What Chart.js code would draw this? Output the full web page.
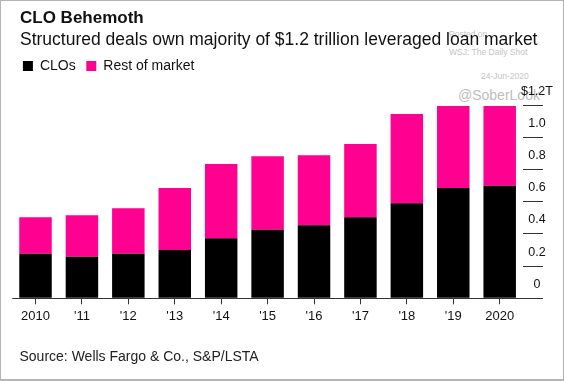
<!DOCTYPE html>
<html>
<head>
<meta charset="utf-8">
<script src="https://cdn.jsdelivr.net/npm/chart.js@4.4.0/dist/chart.umd.min.js"></script>
<style>
  html, body { margin: 0; padding: 0; background: #fff; }
  #wrap { position: relative; width: 564px; height: 381px; overflow: hidden; font-family: "Liberation Sans", Arial, sans-serif; color: #111; }
  #wrap canvas { position: absolute; left: 0; top: 0; z-index: 2; }
  .txt { position: absolute; white-space: nowrap; line-height: 1; z-index: 3; }
  .wm { position: absolute; white-space: nowrap; line-height: 1; color: #c4c4c4; z-index: 1; }
  #frame { position: absolute; left: 0; top: 0; width: 564px; height: 381px; box-sizing: border-box; border: 1px solid #b4b4b4; border-bottom-width: 2px; z-index: 4; }
</style>
</head>
<body>
<div id="wrap">
  <div class="wm" style="left:449px; top:29.8px; font-size:8.5px;">Posted on</div>
  <div class="wm" style="left:449px; top:48.3px; font-size:8.5px;">WSJ: The Daily Shot</div>
  <div class="wm" style="left:481px; top:72.1px; font-size:8.5px;">24-Jun-2020</div>
  <div class="wm" style="left:458px; top:88.2px; font-size:14px; color:#bdbdbd;">@SoberLook</div>

  <div class="txt" style="left:20px; top:8.9px; font-size:17px; font-weight:bold;">CLO Behemoth</div>
  <div class="txt" style="left:20px; top:31.2px; font-size:17.5px;">Structured deals own majority of $1.2 trillion leveraged loan market</div>
  <div class="txt" style="left:19.5px; top:348.8px; font-size:14px; color:#222;">Source: Wells Fargo &amp; Co., S&amp;P/LSTA</div>

  <canvas id="myChart" width="564" height="381"></canvas>
  <div id="frame"></div>
</div>
<script>
// hodnoty v bilionech USD
const years = ['2010', "'11", "'12", "'13", "'14", "'15", "'16", "'17", "'18", "'19", '2020'];
const cloValues = [0.277, 0.259, 0.277, 0.300, 0.373, 0.427, 0.454, 0.504, 0.591, 0.686, 0.700];
const restValues = [0.227, 0.257, 0.283, 0.386, 0.462, 0.456, 0.435, 0.455, 0.555, 0.510, 0.496];
const yTicks = [0, 0.2, 0.4, 0.6, 0.8, 1.0, 1.2];
const yTickLabels = ['0', '0.2', '0.4', '0.6', '0.8', '1.0', '$1.2T'];

Chart.defaults.font.family = '"Liberation Sans", Arial, sans-serif';
Chart.defaults.color = '#111';

var ctx = document.getElementById('myChart').getContext('2d');
var myChart = new Chart(ctx, {
    type: 'bar',
    data: {
        labels: years,
        datasets: [
            { label: 'CLOs', data: cloValues, backgroundColor: '#000000' },
            { label: 'Rest of market', data: restValues, backgroundColor: '#ff0090' }
        ]
    },
    options: {
        responsive: false,
        animation: false,
        // osa Y vpravo je širší kvůli mirror popiskům, proto záporný okraj
        layout: { padding: { top: 48.4, left: 12.3, right: -38.9, bottom: 53.1 } },
        datasets: { bar: { categoryPercentage: 1, barPercentage: 0.7 } },
        plugins: {
            legend: {
                position: 'top',
                align: 'start',
                labels: { boxWidth: 10, boxHeight: 10, padding: 10.6, color: '#111', font: { size: 14 } }
            },
            tooltip: { enabled: false }
        },
        scales: {
            x: {
                stacked: true,
                offset: true,
                grid: { drawOnChartArea: false, offset: false, tickLength: 6, color: '#333' },
                border: { display: false },
                ticks: { color: '#111', padding: 4, font: { size: 13 }, maxRotation: 0, autoSkip: false }
            },
            y: {
                stacked: true,
                position: 'right',
                min: 0,
                max: 1.3387, // prostor nad grafem pro legendu
                afterBuildTicks: function(scale) {
                    scale.ticks = yTicks.map(v => ({ value: v }));
                },
                grid: {
                    // jen nulová čára přes graf, ostatní jen krátké čárky u popisků
                    color: c => (c.tick && c.tick.value === 0) ? '#333' : 'rgba(0,0,0,0)',
                    tickColor: '#333',
                    tickLength: 20
                },
                border: { display: false },
                ticks: {
                    mirror: true,
                    crossAlign: 'center',
                    padding: 30,
                    labelOffset: -14,
                    color: '#111',
                    font: { size: 12.5 },
                    callback: function(value) {
                        return yTickLabels[yTicks.indexOf(value)];
                    }
                }
            }
        }
    }
});
</script>
</body>
</html>
